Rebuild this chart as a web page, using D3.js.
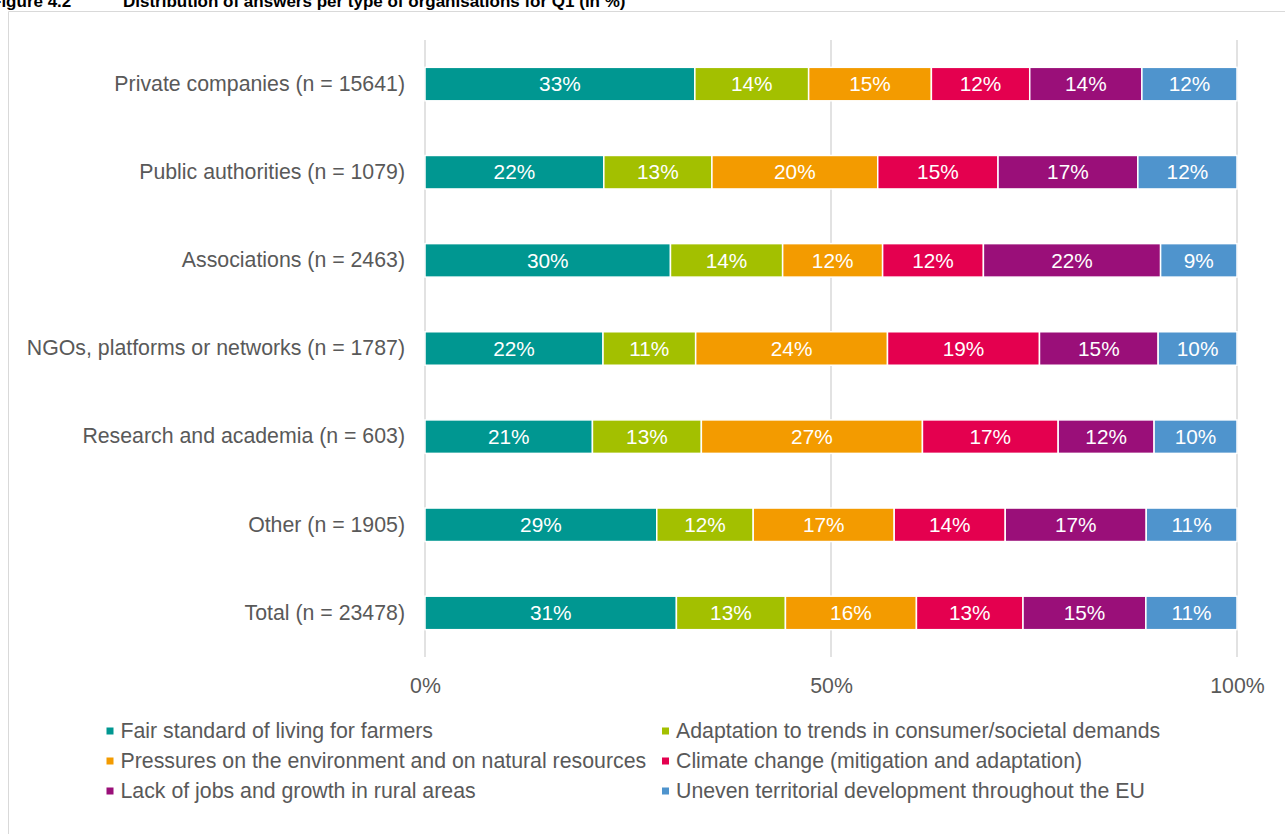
<!DOCTYPE html>
<html>
<head>
<meta charset="utf-8">
<script src="https://cdn.jsdelivr.net/npm/d3@7"></script>
<style>
  html, body { margin: 0; padding: 0; background: #ffffff; }
  svg { display: block; }
</style>
</head>
<body>
<svg id="chart" width="1285" height="834"></svg>
<script>
// ---- Data ----
const categories = [
  "Private companies (n = 15641)",
  "Public authorities (n = 1079)",
  "Associations (n = 2463)",
  "NGOs, platforms or networks (n = 1787)",
  "Research and academia (n = 603)",
  "Other (n = 1905)",
  "Total (n = 23478)"
];
const seriesNames = [
  "Fair standard of living for farmers",
  "Adaptation to trends in consumer/societal demands",
  "Pressures on the environment and on natural resources",
  "Climate change (mitigation and adaptation)",
  "Lack of jobs and growth in rural areas",
  "Uneven territorial development throughout the EU"
];
const seriesColors = ["#009791", "#a3c000", "#f39b00", "#e4004f", "#9a0f79", "#4f94cd"];
// values per series, in category order (percent)
const fairLiving     = [33.2, 22.0, 30.2, 21.9, 20.6, 28.6, 30.9];
const adaptation     = [14.0, 13.3, 13.8, 11.4, 13.4, 11.9, 13.4];
const pressures      = [15.1, 20.4, 12.3, 23.6, 27.2, 17.4, 16.1];
const climate        = [12.1, 14.8, 12.4, 18.7, 16.7, 13.7, 13.1];
const jobs           = [13.8, 17.2, 21.8, 14.6, 11.8, 17.4, 15.1];
const uneven         = [11.7, 12.2,  9.4,  9.7, 10.2, 11.2, 11.2];
const seriesValues = [fairLiving, adaptation, pressures, climate, jobs, uneven];
const xTicks = [0, 50, 100];
const xTickLabels = ["0%", "50%", "100%"];

// ---- Layout ----
const svg = d3.select("#chart");
const FONT = "'Liberation Sans', Arial, Helvetica, sans-serif";
const textGrey = "#595959";
const LABEL_SIZE = 21.3;

// frame
svg.append("path")
  .attr("d", "M8.5,834 L8.5,11.5 L1285,11.5")
  .attr("fill", "none").attr("stroke", "#d9d9d9").attr("stroke-width", 1);

// title (partly cut off at top-left as in the reference)
svg.append("text")
  .attr("x", -9).attr("y", 6.5)
  .attr("font-family", FONT).attr("font-weight", "bold").attr("font-size", 17)
  .attr("fill", "#000")
  .text("Figure 4.2");
svg.append("text")
  .attr("x", 123).attr("y", 6.5)
  .attr("font-family", FONT).attr("font-weight", "bold").attr("font-size", 17)
  .attr("fill", "#000")
  .text("Distribution of answers per type of organisations for Q1 (in %)");

const x = d3.scaleLinear().domain([0, 100]).range([425, 1237]);
const y = d3.scaleBand().domain(categories).range([40, 657])
  .paddingInner(0.62).paddingOuter(0.31);

// gridlines
svg.append("g").selectAll("line").data(xTicks).join("line")
  .attr("x1", d => x(d)).attr("x2", d => x(d))
  .attr("y1", 40).attr("y2", 657)
  .attr("stroke", "#d9d9d9").attr("stroke-width", 1.5);

// stacked data (normalised per row to 100%)
const rows = categories.map((c, i) => {
  const o = { category: c };
  const sum = d3.sum(seriesValues, s => s[i]);
  seriesNames.forEach((n, j) => { o[n] = seriesValues[j][i] * 100 / sum; o["raw_" + j] = seriesValues[j][i]; });
  return o;
});
const stack = d3.stack().keys(seriesNames);
const stacked = stack(rows);

const gBars = svg.append("g");
stacked.forEach((layer, j) => {
  const g = gBars.append("g");
  g.selectAll("rect").data(layer).join("rect")
    .attr("x", d => x(d[0]))
    .attr("y", d => y(d.data.category))
    .attr("width", d => x(d[1]) - x(d[0]))
    .attr("height", y.bandwidth())
    .attr("fill", seriesColors[j])
    .attr("stroke", "#ffffff").attr("stroke-width", 1.5);
  g.selectAll("text").data(layer).join("text")
    .attr("x", d => (x(d[0]) + x(d[1])) / 2)
    .attr("y", d => y(d.data.category) + y.bandwidth() / 2)
    .attr("dy", "0.35em")
    .attr("text-anchor", "middle")
    .attr("font-family", FONT).attr("font-size", 20.8)
    .attr("fill", "#ffffff")
    .text(d => Math.round(d.data["raw_" + j]) + "%");
});

// category labels (y axis)
const yAxis = d3.axisLeft(y).tickSize(0).tickPadding(0);
const gy = svg.append("g").attr("transform", "translate(405,0)").call(yAxis);
gy.select(".domain").remove();
gy.selectAll("text")
  .attr("font-family", FONT).attr("font-size", LABEL_SIZE).attr("fill", textGrey);

// x axis tick labels
const xAxis = d3.axisBottom(x).tickValues(xTicks).tickFormat((d, i) => xTickLabels[i]).tickSize(0).tickPadding(0);
const gx = svg.append("g").attr("transform", "translate(0,678)").call(xAxis);
gx.select(".domain").remove();
gx.selectAll("text")
  .attr("font-family", FONT).attr("font-size", LABEL_SIZE).attr("fill", textGrey);

// legend
const legendCols = [120.5, 676];
const legendRows = [731, 761, 791];
const gLeg = svg.append("g");
seriesNames.forEach((n, j) => {
  const cx = legendCols[j % 2];
  const cy = legendRows[Math.floor(j / 2)];
  gLeg.append("rect")
    .attr("x", cx - 14).attr("y", cy - 3.5)
    .attr("width", 7).attr("height", 7)
    .attr("fill", seriesColors[j]);
  gLeg.append("text")
    .attr("x", cx).attr("y", cy).attr("dy", "0.35em")
    .attr("font-family", FONT).attr("font-size", LABEL_SIZE).attr("fill", textGrey)
    .text(n);
});
</script>
</body>
</html>
